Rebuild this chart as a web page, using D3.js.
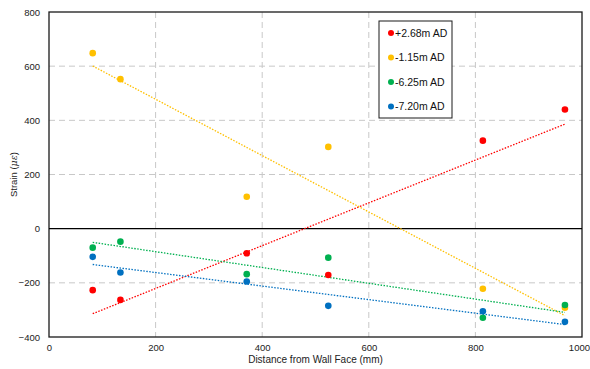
<!DOCTYPE html>
<html>
<head>
<meta charset="utf-8">
<script src="https://cdn.jsdelivr.net/npm/d3@7"></script>
<style>
  html, body { margin: 0; padding: 0; background: #fff; }
  svg { display: block; font-family: "Liberation Sans", Arial, sans-serif; }
</style>
</head>
<body>
<svg id="chart" width="590" height="369"></svg>
<script>
// chart data
const distances = [82, 134, 371, 524, 814, 968];
const seriesNames = ["+2.68m AD", "-1.15m AD", "-6.25m AD", "-7.20m AD"];
const seriesColors = ["#ff0000", "#ffc000", "#00b050", "#0070c0"];
const strainPlus268 = [-227, -263, -91, -171, 325, 440];
const strainMinus115 = [648, 552, 118, 302, -222, -292];
const strainMinus625 = [-70, -48, -168, -107, -329, -282];
const strainMinus720 = [-104, -162, -195, -285, -305, -344];
const xTicks = [0, 200, 400, 600, 800, 1000];
const yTicks = [-400, -200, 0, 200, 400, 600, 800];

const seriesValues = [strainPlus268, strainMinus115, strainMinus625, strainMinus720];

const margin = { left: 49, right: 8, top: 12, bottom: 32 };
const width = 590;
const height = 369;

const svg = d3.select("#chart");

const x = d3.scaleLinear().domain([0, 1000]).range([margin.left, width - margin.right]);
const y = d3.scaleLinear().domain([-400, 800]).range([height - margin.bottom, margin.top]);

// dashed grid
const grid = svg.append("g").attr("class", "grid");
grid
  .selectAll("line.h")
  .data(yTicks.filter((t) => t !== 0 && t !== -400 && t !== 800))
  .join("line")
  .attr("class", "h")
  .attr("x1", x(0))
  .attr("x2", x(1000))
  .attr("y1", (d) => y(d))
  .attr("y2", (d) => y(d))
  .attr("stroke", "#c8c8c8")
  .attr("stroke-width", 1)
  .attr("stroke-dasharray", "6,4");
grid
  .selectAll("line.v")
  .data(xTicks.filter((t) => t !== 0 && t !== 1000))
  .join("line")
  .attr("class", "v")
  .attr("y1", y(800))
  .attr("y2", y(-400))
  .attr("x1", (d) => x(d))
  .attr("x2", (d) => x(d))
  .attr("stroke", "#c8c8c8")
  .attr("stroke-width", 1)
  .attr("stroke-dasharray", "6,4");

// plot frame
svg
  .append("rect")
  .attr("x", x(0))
  .attr("y", y(800))
  .attr("width", x(1000) - x(0))
  .attr("height", y(-400) - y(800))
  .attr("fill", "none")
  .attr("stroke", "#1a1a1a")
  .attr("stroke-width", 1.3);

// zero line
svg
  .append("line")
  .attr("x1", x(0))
  .attr("x2", x(1000))
  .attr("y1", y(0))
  .attr("y2", y(0))
  .attr("stroke", "#000")
  .attr("stroke-width", 1.2);

// axes (labels only)
const yAxis = svg
  .append("g")
  .attr("transform", `translate(${x(0)},0)`)
  .call(d3.axisLeft(y).tickValues(yTicks).tickSize(0).tickPadding(9).tickFormat(d3.format("d")));
const xAxis = svg
  .append("g")
  .attr("transform", `translate(0,${y(-400)})`)
  .call(d3.axisBottom(x).tickValues(xTicks).tickSize(0).tickPadding(7).tickFormat(d3.format("d")));
[yAxis, xAxis].forEach((axis) => {
  axis.select(".domain").remove();
  axis.selectAll("text").attr("font-size", 9.5).attr("fill", "#222").attr("font-family", "Liberation Sans, Arial, sans-serif");
});
// keep the last x label inside the window
xAxis
  .selectAll(".tick")
  .filter((d) => d === 1000)
  .select("text")
  .attr("text-anchor", "end")
  .attr("dx", width - x(1000) - 0.5);

// axis titles
svg
  .append("text")
  .attr("x", (x(0) + x(1000)) / 2)
  .attr("y", 363)
  .attr("text-anchor", "middle")
  .attr("font-size", 10)
  .attr("fill", "#222")
  .text("Distance from Wall Face (mm)");

const yTitle = svg
  .append("text")
  .attr("transform", `translate(17,${y(200)}) rotate(-90)`)
  .attr("text-anchor", "middle")
  .attr("font-size", 9.5)
  .attr("fill", "#222");
yTitle.append("tspan").text("Strain (");
yTitle.append("tspan").attr("font-style", "italic").attr("font-family", "DejaVu Serif, serif").text("με");
yTitle.append("tspan").text(")");

// least-squares trendlines
function linearFit(xs, ys) {
  const mx = d3.mean(xs);
  const my = d3.mean(ys);
  const sxy = d3.sum(xs, (v, i) => (v - mx) * (ys[i] - my));
  const sxx = d3.sum(xs, (v) => (v - mx) * (v - mx));
  const slope = sxy / sxx;
  return { slope, intercept: my - slope * mx };
}

const xMin = d3.min(distances);
const xMax = d3.max(distances);
seriesValues.forEach((values, i) => {
  const fit = linearFit(distances, values);
  svg
    .append("line")
    .attr("x1", x(xMin))
    .attr("x2", x(xMax))
    .attr("y1", y(fit.intercept + fit.slope * xMin))
    .attr("y2", y(fit.intercept + fit.slope * xMax))
    .attr("stroke", seriesColors[i])
    .attr("stroke-width", 1.3)
    .attr("stroke-dasharray", "1.5,1.5");
});

// points
seriesValues.forEach((values, i) => {
  svg
    .append("g")
    .selectAll("circle")
    .data(values)
    .join("circle")
    .attr("cx", (d, j) => x(distances[j]))
    .attr("cy", (d) => y(d))
    .attr("r", 3.3)
    .attr("fill", seriesColors[i]);
});

// legend
const legend = svg.append("g").attr("transform", "translate(379,21)");
legend
  .append("rect")
  .attr("width", 73)
  .attr("height", 97)
  .attr("fill", "#fff")
  .attr("stroke", "#1a1a1a")
  .attr("stroke-width", 1);
seriesNames.forEach((name, i) => {
  const row = legend.append("g").attr("transform", `translate(0,${12 + i * 24.5})`);
  row.append("circle").attr("cx", 12).attr("cy", 0).attr("r", 3).attr("fill", seriesColors[i]);
  row
    .append("text")
    .attr("x", 16)
    .attr("y", 3.8)
    .attr("font-size", 10.5)
    .attr("fill", "#111")
    .text(name);
});
</script>
</body>
</html>
